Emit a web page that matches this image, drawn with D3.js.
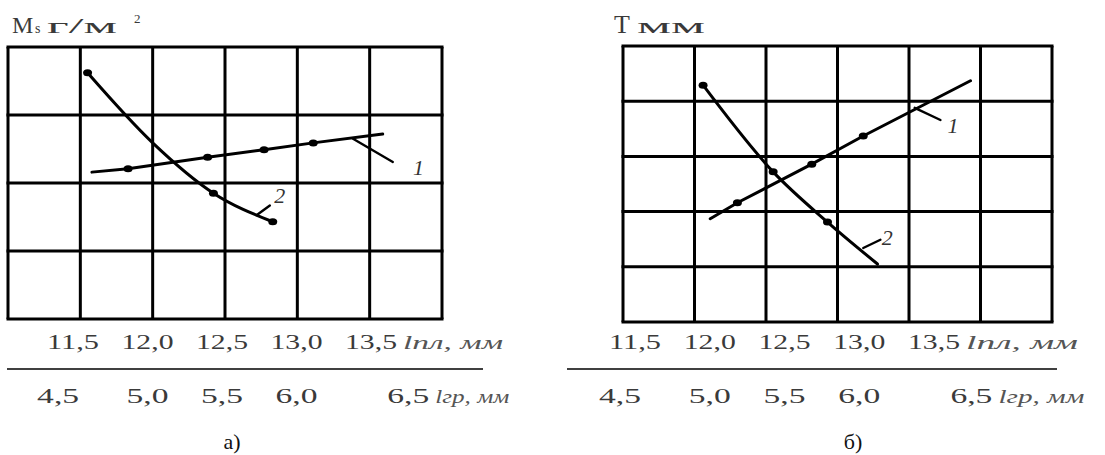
<!DOCTYPE html>
<html>
<head>
<meta charset="utf-8">
<script src="https://cdn.jsdelivr.net/npm/d3@7"></script>
<style>
    body { margin: 0; background: #fff; }
    svg { display: block; }
</style>
</head>
<body>
<div id="chart"></div>
<script>
// tick labels (lпл on top row, lгр on the bottom row)
const lplTicks = [11.5, 12.0, 12.5, 13.0, 13.5];
const lplLabels = ['11,5', '12,0', '12,5', '13,0', '13,5'];
const lgrLabels = ['4,5', '5,0', '5,5', '6,0', '6,5'];
const lgrAtLpl = [11.4, 12.0, 12.5, 13.0, 13.75];

// a) Ms, г/м²
const msLine1Lpl = [11.58, 11.83, 12.38, 12.77, 13.11, 13.59];
const msLine1Val = [2.16, 2.21, 2.38, 2.49, 2.59, 2.72];
const msLine1Mark = [0, 1, 1, 1, 1, 0];
const msLine2Lpl = [11.55, 12.0, 12.42, 12.83];
const msLine2Val = [3.62, 2.59, 1.85, 1.43];
const msLine2Mark = [1, 0, 1, 1];

// б) T, мм
const tLine1Lpl = [11.61, 11.80, 12.32, 12.68, 13.43];
const tLine1Val = [1.87, 2.16, 2.86, 3.37, 4.37];
const tLine1Mark = [0, 1, 1, 1, 0];
const tLine2Lpl = [11.56, 12.05, 12.43, 12.78];
const tLine2Val = [4.29, 2.72, 1.81, 1.05];
const tLine2Mark = [1, 1, 1, 0];

// curve labels: leader start, leader end, text position
const msNotes = [
    {text: '1', from: [13.385, 2.65], to: [13.66, 2.31], at: [13.80, 2.12]},
    {text: '2', from: [12.72, 1.53], to: [12.81, 1.67], at: [12.84, 1.71]}
];
const tNotes = [
    {text: '1', from: [13.04, 3.88], to: [13.22, 3.66], at: [13.27, 3.42]},
    {text: '2', from: [12.68, 1.34], to: [12.80, 1.49], at: [12.81, 1.40]}
];

const width = 1105,
    height = 455,
    serif = '"Liberation Serif", "Times New Roman", serif',
    textColor = '#3a3a3a';

const panels = [
    {
        left: 8, right: 442, top: 47, bottom: 319, rows: 4,
        labelRange: [73, 371], sep: [7, 483], sepY: 369,
        unitW: [100, 74], caption: 'а)', captionX: 232,
        lines: [
            {lpl: msLine1Lpl, val: msLine1Val, mark: msLine1Mark, curve: d3.curveLinear},
            {lpl: msLine2Lpl, val: msLine2Val, mark: msLine2Mark, curve: d3.curveMonotoneX}
        ],
        notes: msNotes
    },
    {
        left: 623, right: 1052, top: 46, bottom: 322, rows: 5,
        labelRange: [635, 934], sep: [567, 1057], sepY: 369,
        unitW: [112, 86], caption: 'б)', captionX: 853,
        lines: [
            {lpl: tLine1Lpl, val: tLine1Val, mark: tLine1Mark, curve: d3.curveLinear},
            {lpl: tLine2Lpl, val: tLine2Val, mark: tLine2Mark, curve: d3.curveMonotoneX}
        ],
        notes: tNotes
    }
];

let svg = d3.select('#chart').append('svg')
    .attr('width', width)
    .attr('height', height);

panels.forEach(p => drawPanel(svg.append('g'), p));

// titles
let titleA = svg.append('g').attr('fill', '#3a3a3a').style('font-family', serif);
titleA.append('text').attr('x', 12).attr('y', 33).style('font-size', '24px').text('M');
titleA.append('text').attr('x', 35).attr('y', 33).style('font-size', '14px').text('s');
titleA.append('text').attr('x', 47).attr('y', 33).style('font-size', '20px')
    .attr('textLength', 70).attr('lengthAdjust', 'spacingAndGlyphs').text('г/м');
titleA.append('text').attr('x', 134).attr('y', 23).style('font-size', '13px').text('2');

let titleB = svg.append('g').attr('fill', '#3a3a3a').style('font-family', serif);
titleB.append('text').attr('x', 614).attr('y', 33).style('font-size', '26px').text('Т');
titleB.append('text').attr('x', 637).attr('y', 33).style('font-size', '20px')
    .attr('textLength', 68).attr('lengthAdjust', 'spacingAndGlyphs').text('мм');

function drawPanel(g, p) {
    const x = d3.scaleLinear().domain([11, 14]).range([p.left, p.right]);
    const y = d3.scaleLinear().domain([0, p.rows]).range([p.bottom, p.top]);
    const lx = d3.scaleLinear().domain([11.5, 13.5]).range(p.labelRange);

    // grid
    g.append('g')
        .selectAll('line')
        .data(d3.range(11, 14.01, 0.5))
        .join('line')
        .attr('x1', d => x(d)).attr('x2', d => x(d))
        .attr('y1', p.top).attr('y2', p.bottom)
        .attr('stroke', '#000').attr('stroke-width', 3);

    g.append('g')
        .selectAll('line')
        .data(d3.range(0, p.rows + 1))
        .join('line')
        .attr('x1', p.left - 1.5).attr('x2', p.right + 1.5)
        .attr('y1', d => y(d)).attr('y2', d => y(d))
        .attr('stroke', '#000').attr('stroke-width', 3);

    // curves
    p.lines.forEach(s => {
        const pts = s.lpl.map((v, i) => ({lpl: v, val: s.val[i], mark: s.mark[i]}));
        g.append('path')
            .datum(pts)
            .attr('fill', 'none')
            .attr('stroke', '#000')
            .attr('stroke-width', 3)
            .attr('stroke-linecap', 'round')
            .attr('d', d3.line().x(d => x(d.lpl)).y(d => y(d.val)).curve(s.curve));

        g.append('g')
            .selectAll('ellipse')
            .data(pts.filter(d => d.mark))
            .join('ellipse')
            .attr('cx', d => x(d.lpl))
            .attr('cy', d => y(d.val))
            .attr('rx', 4.5)
            .attr('ry', 3.5)
            .attr('fill', '#000');
    });

    // curve numbers with leaders
    p.notes.forEach(n => {
        g.append('line')
            .attr('x1', x(n.from[0])).attr('y1', y(n.from[1]))
            .attr('x2', x(n.to[0])).attr('y2', y(n.to[1]))
            .attr('stroke', '#000').attr('stroke-width', 2.4)
            .attr('stroke-linecap', 'round');
        g.append('text')
            .attr('x', x(n.at[0])).attr('y', y(n.at[1]))
            .style('font-family', serif)
            .style('font-style', 'italic')
            .style('font-size', '22px')
            .attr('fill', '#333')
            .text(n.text);
    });

    // tick label rows
    const row1 = 349, row2 = 403, labelW = 52, lgrW = 42;
    const rows = g.append('g')
        .style('font-family', serif)
        .style('font-size', '20px')
        .attr('fill', textColor);

    rows.selectAll('text.lpl')
        .data(lplTicks)
        .join('text')
        .attr('class', 'lpl')
        .attr('x', d => lx(d) - labelW / 2)
        .attr('y', row1)
        .attr('textLength', labelW)
        .attr('lengthAdjust', 'spacingAndGlyphs')
        .text((d, i) => lplLabels[i]);

    rows.selectAll('text.lgr')
        .data(lgrAtLpl)
        .join('text')
        .attr('class', 'lgr')
        .attr('x', d => lx(d) - lgrW / 2)
        .attr('y', row2)
        .attr('textLength', lgrW)
        .attr('lengthAdjust', 'spacingAndGlyphs')
        .text((d, i) => lgrLabels[i]);

    rows.append('text')
        .attr('x', lx(lplTicks[lplTicks.length - 1]) + labelW / 2 + 6)
        .attr('y', row1)
        .style('font-style', 'italic')
        .style('font-size', '18px')
        .attr('fill', '#555')
        .attr('textLength', p.unitW[0])
        .attr('lengthAdjust', 'spacingAndGlyphs')
        .text('lпл, мм');

    rows.append('text')
        .attr('x', lx(lgrAtLpl[lgrAtLpl.length - 1]) + lgrW / 2 + 6)
        .attr('y', row2)
        .style('font-style', 'italic')
        .style('font-size', '18px')
        .attr('fill', '#555')
        .attr('textLength', p.unitW[1])
        .attr('lengthAdjust', 'spacingAndGlyphs')
        .text('lгр, мм');

    g.append('line')
        .attr('x1', p.sep[0]).attr('x2', p.sep[1])
        .attr('y1', p.sepY).attr('y2', p.sepY)
        .attr('stroke', '#000').attr('stroke-width', 1.6);

    g.append('text')
        .attr('x', p.captionX)
        .attr('y', 449)
        .attr('text-anchor', 'middle')
        .style('font-family', serif)
        .style('font-size', '22px')
        .attr('fill', '#111')
        .text(p.caption);
}
</script>
</body>
</html>
